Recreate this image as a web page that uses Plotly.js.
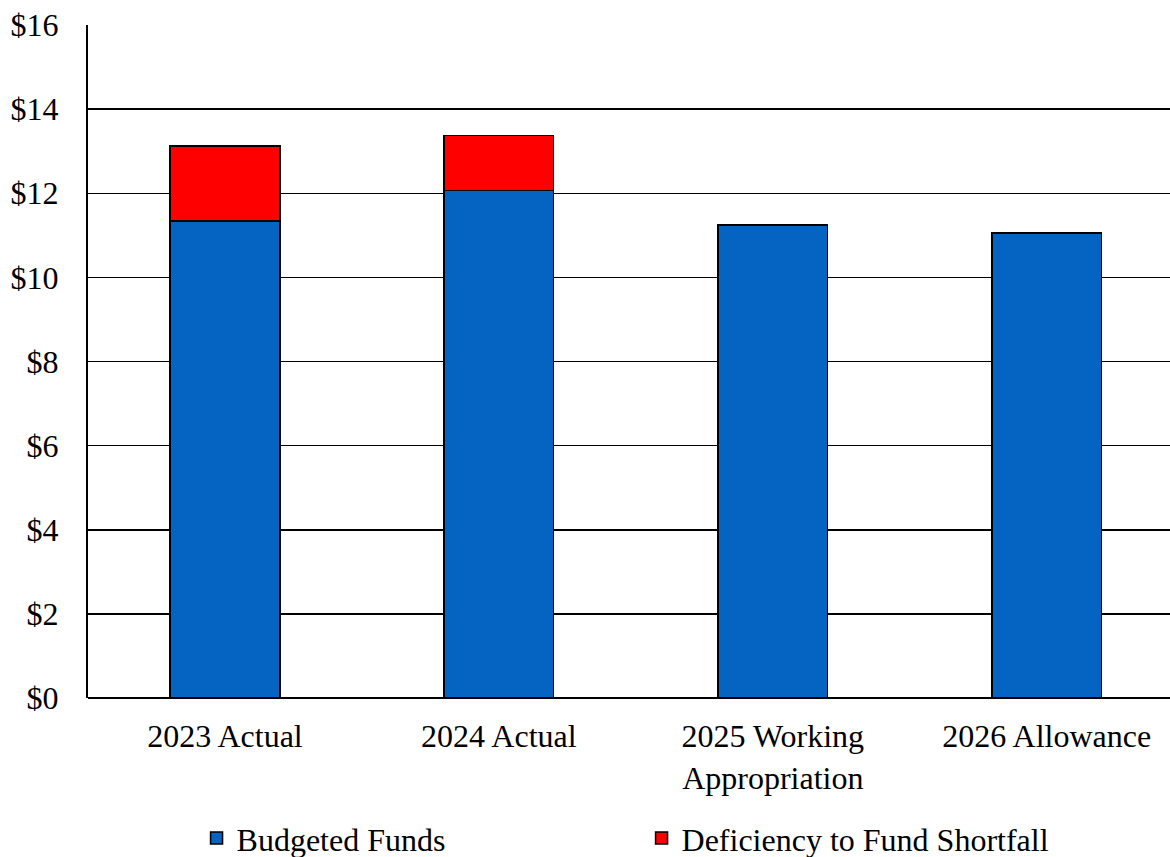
<!DOCTYPE html>
<html>
<head>
<meta charset="utf-8">
<script src="https://cdn.plot.ly/plotly-3.0.1.min.js"></script>
<style>
html,body{margin:0;padding:0;background:#fff;}
#chart{width:1170px;height:857px;}
</style>
</head>
<body>
<div id="chart"></div>
<script>
var categories = ["2023 Actual", "2024 Actual", "2025 Working<br>Appropriation", "2026 Allowance"];
var budgetedFunds = [11.34, 12.06, 11.24, 11.06];
var deficiencyShortfall = [1.78, 1.31, null, null];
var yTickVals = [0, 2, 4, 6, 8, 10, 12, 14, 16];
var yTickText = ["$0", "$2", "$4", "$6", "$8", "$10", "$12", "$14", "$16"];

function serif() {
  return {family: "Liberation Serif, Times New Roman, serif", size: 32, color: "#000000"};
}

var traces = [
  {
    type: "bar",
    name: "Budgeted Funds",
    x: categories,
    y: budgetedFunds,
    width: 0.4,
    marker: {color: "#0563C1", line: {color: "#000", width: 1.5}},
    hoverinfo: "skip"
  },
  {
    type: "bar",
    name: "Deficiency to Fund Shortfall",
    x: categories,
    y: deficiencyShortfall,
    width: 0.4,
    marker: {color: "#FF0000", line: {color: "#000", width: 1.5}},
    hoverinfo: "skip"
  }
];

var layout = {
  width: 1170,
  height: 857,
  barmode: "stack",
  paper_bgcolor: "#fff",
  plot_bgcolor: "#fff",
  font: serif(),
  margin: {l: 88, r: 0, t: 25, b: 159, autoexpand: false},
  xaxis: {
    type: "category",
    range: [-0.5, 3.45],
    showgrid: false,
    showline: false,
    ticks: "",
    tickfont: serif(),
    ticklabelstandoff: 16,
    zeroline: false,
    automargin: false,
    fixedrange: true
  },
  yaxis: {
    range: [0, 16],
    tickvals: yTickVals,
    ticktext: yTickText,
    showgrid: true,
    gridcolor: "#000",
    gridwidth: 1.5,
    showline: true,
    linecolor: "#000",
    linewidth: 2,
    zeroline: true,
    zerolinecolor: "#000",
    zerolinewidth: 2,
    ticks: "",
    ticklabelstandoff: 21,
    tickfont: serif(),
    automargin: false,
    fixedrange: true
  },
  showlegend: true,
  legend: {
    orientation: "h",
    xref: "container",
    yref: "container",
    x: 0.168,
    xanchor: "left",
    y: 0.054,
    yanchor: "top",
    font: serif(),
    entrywidth: 400,
    entrywidthmode: "pixels",
    traceorder: "normal",
    bgcolor: "rgba(0,0,0,0)"
  }
};

Plotly.newPlot("chart", traces, layout, {displayModeBar: false, staticPlot: true});
</script>
</body>
</html>
